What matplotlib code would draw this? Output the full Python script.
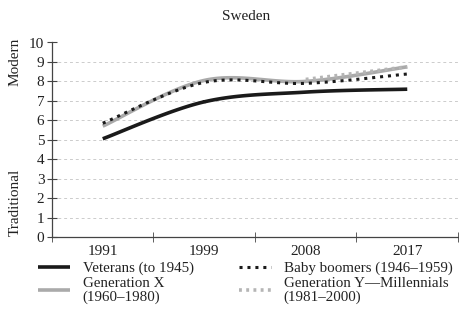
import numpy as np
import matplotlib.pyplot as plt

plt.rcParams['font.family'] = ['Liberation Serif', 'DejaVu Serif']

years = ['1991', '1999', '2008', '2017']
veterans = [5.05, 6.95, 7.45, 7.6]
boomers = [5.85, 7.95, 7.9, 8.38]
gen_x = [5.7, 8.05, 8.0, 8.75]
gen_y = [None, None, 8.1, 8.75]


def smooth(xs, ys, n=30):
    # catmull-rom style smoothing, like a spreadsheet "smoothed line"
    pts = np.array([(x, y) for x, y in zip(xs, ys) if y is not None], float)
    if len(pts) < 3:
        return pts[:, 0], pts[:, 1]
    p = np.vstack([pts[0], pts, pts[-1]])
    out = []
    for i in range(1, len(p) - 2):
        p0, p1, p2, p3 = p[i - 1], p[i], p[i + 1], p[i + 2]
        t = np.linspace(0, 1, n)[:, None]
        seg = 0.5 * ((2 * p1) + (-p0 + p2) * t + (2 * p0 - 5 * p1 + 4 * p2 - p3) * t ** 2
                     + (-p0 + 3 * p1 - 3 * p2 + p3) * t ** 3)
        out.append(seg)
    out = np.vstack(out)
    return out[:, 0], out[:, 1]


fig = plt.figure(figsize=(4.6, 3.09), dpi=100)
ax = fig.add_axes([52 / 460, 1 - 237 / 309, 406 / 460, 194.5 / 309])

x = np.arange(len(years))
ax.plot(*smooth(x, veterans), color='#1a1a1a', lw=2.6, label='Veterans (to 1945)', solid_capstyle='butt')
ax.plot(*smooth(x, gen_x), color='#aaaaaa', lw=2.6, label='Generation X\n(1960–1980)', solid_capstyle='butt')
ax.plot(*smooth(x, boomers), color='#1a1a1a', lw=2.2, ls=(0, (1, 1.6)), label='Baby boomers (1946–1959)')
ax.plot(*smooth(x, gen_y), color='#b5b5b5', lw=2.6, ls=(0, (0.8, 1.2)), label='Generation Y—Millennials\n(1981–2000)')

ax.set_ylim(0, 10)
ax.set_yticks(range(0, 11))
ax.set_xticks(x)
ax.set_xticklabels(years)
ax.set_xticks([-0.5, 0.5, 1.5, 2.5, 3.5], minor=True)
ax.tick_params(axis='x', which='major', length=0, labelsize=11, pad=6, colors='#222222')
ax.tick_params(axis='x', which='minor', direction='inout', length=7, color='#444444')
ax.tick_params(axis='y', direction='inout', length=7, labelsize=11, pad=2, color='#444444', labelcolor='#222222')
ax.set_xlim(-0.5, 3.5)

for s in ['top', 'right']:
    ax.spines[s].set_visible(False)
for s in ['left', 'bottom']:
    ax.spines[s].set_color('#444444')
    ax.spines[s].set_linewidth(0.9)

ax.grid(axis='y', color='#cccccc', ls=(0, (3, 3)), lw=0.7)
ax.set_axisbelow(True)

fig.text(246 / 460, 1 - 16 / 309, 'Sweden', ha='center', va='center', fontsize=11, color='#222222')
fig.text(15 / 460, 1 - 62 / 309, 'Modern', rotation=90, ha='center', va='center', fontsize=11, color='#222222')
fig.text(15 / 460, 1 - 202 / 309, 'Traditional', rotation=90, ha='center', va='center', fontsize=11, color='#222222')

handles, labels = ax.get_legend_handles_labels()
leg = ax.legend(handles, labels, ncol=2,
                loc='upper left', bbox_to_anchor=(-0.05, -0.095), frameon=False,
                fontsize=10.8, handlelength=2.15, handletextpad=0.85, columnspacing=3.0,
                labelspacing=0.1, borderaxespad=0, borderpad=0.4, labelcolor='#222222')
for t in leg.get_texts():
    t.set_linespacing(1.05)

plt.savefig('out.png', dpi=100)
